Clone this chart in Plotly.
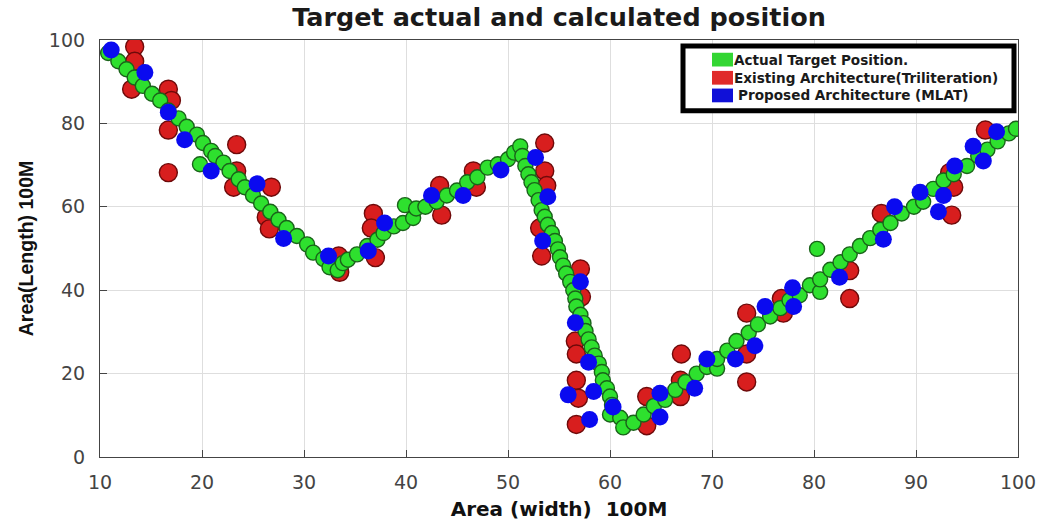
import plotly.graph_objects as go

# Actual target track (area width / length, units of 100 m)
actual_x = [10.8, 11.8, 12.6, 13.4, 14.2, 15.1, 15.9, 16.7, 17.7, 18.5, 19.5, 20.1, 20.9, 21.3, 19.8,
            22.1, 22.7, 23.6, 24.2, 25.0, 25.8, 26.7, 27.5, 28.3, 29.3, 30.3, 30.9, 31.9, 32.5, 33.3,
            33.8, 34.3, 35.2, 36.2, 37.2, 37.8, 38.8, 39.7, 39.9, 40.7, 41.0, 41.9, 43.0, 44.0, 45.0,
            46.0, 47.0, 48.0, 49.0, 50.0, 50.6, 51.2, 51.4, 51.7, 52.0, 52.3, 52.6, 53.0, 53.3, 53.6,
            53.9, 54.3, 54.6, 54.9, 55.1, 55.4, 55.7, 56.1, 56.4, 56.6, 56.7, 57.1, 57.4, 57.6, 57.9,
            58.2, 58.5, 58.9, 59.2, 59.3, 59.7, 60.0, 60.2, 60.0, 61.0, 61.3, 62.3, 63.3, 64.3, 65.4,
            66.4, 67.4, 68.5, 69.5, 70.5, 70.5, 71.5, 72.4, 73.6, 74.5, 75.7, 76.7, 77.6, 78.6, 79.6,
            80.6, 80.6, 80.3, 81.6, 82.6, 83.5, 84.5, 85.5, 86.5, 87.5, 88.6, 89.8, 90.7, 91.7, 92.7,
            93.7, 95.0, 96.1, 97.0, 98.0, 99.1, 99.8]
actual_y = [96.9, 94.9, 93.0, 91.0, 89.0, 87.1, 85.5, 83.1, 81.2, 79.2, 77.3, 75.3, 73.4, 72.2, 70.2,
            70.6, 68.6, 66.6, 64.7, 62.7, 60.8, 58.8, 56.9, 54.9, 53.0, 51.0, 49.0, 47.5, 45.5, 44.8,
            46.5, 47.3, 48.6, 50.6, 52.1, 53.7, 55.3, 56.1, 60.4, 57.3, 59.6, 60.0, 61.2, 62.7, 63.9,
            65.9, 67.1, 69.4, 70.2, 71.4, 73.0, 74.5, 72.2, 69.8, 67.8, 65.9, 64.0, 61.6, 59.2, 57.6,
            55.7, 53.7, 51.8, 49.8, 47.9, 45.9, 44.0, 42.0, 40.0, 38.0, 36.1, 34.1, 32.1, 30.2, 28.2,
            26.3, 24.3, 22.4, 20.4, 18.4, 16.5, 14.5, 12.5, 10.2, 9.4, 7.1, 8.2, 10.2, 12.2, 13.7,
            16.1, 18.0, 20.0, 21.6, 21.2, 23.5, 25.5, 27.8, 29.8, 31.8, 33.7, 35.7, 37.6, 38.8, 41.2,
            39.6, 42.6, 49.9, 44.9, 46.7, 48.6, 50.6, 52.5, 54.5, 56.1, 58.4, 60.0, 61.2, 64.3, 66.3,
            67.8, 69.8, 72.2, 73.7, 75.7, 77.6, 78.7]

# Trilateration estimates (existing architecture)
tri_x = [13.4, 13.4, 13.1, 16.7, 17.0, 16.7, 16.7, 23.4, 23.4, 23.1, 26.8, 26.3, 26.6, 33.4, 33.5,
         36.8, 36.6, 37.0, 43.3, 43.5, 46.6, 46.9, 53.6, 53.6, 53.8, 53.1, 53.3, 57.1, 57.2, 56.6,
         56.7, 56.7, 56.9, 56.7, 63.6, 63.6, 67.0, 66.9, 66.9, 73.4, 73.4, 73.4, 76.8, 77.0, 83.5,
         83.5, 86.6, 93.7, 93.3, 93.5, 96.8]
tri_y = [98.4, 94.9, 88.2, 88.2, 85.5, 78.4, 68.2, 74.9, 68.6, 64.7, 64.7, 57.5, 54.7, 48.2, 44.3,
         58.4, 54.9, 47.8, 65.1, 58.0, 68.6, 64.7, 75.3, 68.6, 65.1, 54.9, 48.2, 45.1, 38.4, 27.8,
         24.7, 18.4, 14.1, 7.8, 14.5, 7.5, 24.7, 18.4, 14.5, 34.5, 24.7, 18.0, 38.0, 34.5, 44.7,
         38.0, 58.4, 64.7, 68.2, 58.0, 78.4]

# MLAT estimates (proposed architecture)
mlat_x = [11.1, 14.4, 16.7, 18.3, 20.9, 25.4, 28.0, 32.4, 36.3, 37.9, 42.5, 45.6, 49.3, 52.7, 53.9,
          53.4, 57.1, 56.6, 57.9, 55.9, 58.4, 58.0, 60.3, 64.9, 64.9, 68.3, 69.5, 72.3, 74.2, 75.2,
          77.9, 78.0, 82.5, 86.8, 87.9, 90.4, 92.7, 92.2, 93.8, 95.6, 96.6, 97.9]
mlat_y = [97.6, 92.2, 82.7, 76.1, 68.6, 65.5, 52.4, 48.2, 49.4, 56.1, 62.7, 62.7, 68.8, 71.8, 62.4,
          51.8, 42.0, 32.2, 22.7, 14.9, 15.7, 9.0, 12.0, 15.3, 9.6, 16.5, 23.5, 23.5, 26.7, 36.1,
          40.6, 36.1, 43.1, 52.2, 60.0, 63.5, 62.7, 58.8, 69.8, 74.5, 71.0, 78.0]

legend_labels = ["Actual Target Position.",
                 "Existing Architecture(Triliteration)",
                 "Proposed Architecture (MLAT)"]
x_ticks = [10, 20, 30, 40, 50, 60, 70, 80, 90, 100]
y_ticks = [0, 20, 40, 60, 80, 100]

W, H = 1048, 529
ML, MR, MT, MB = 100, 30, 40, 64
PW, PH = W - ML - MR, H - MT - MB

GREEN, RED, BLUE = "#2ee02e", "#d81e1e", "#0a0af0"

fig = go.Figure()
fig.add_trace(go.Scatter(x=tri_x, y=tri_y, mode="markers", showlegend=False,
                         marker=dict(size=18, color=RED, line=dict(color="#6e0a0a", width=1.4))))
fig.add_trace(go.Scatter(x=actual_x, y=actual_y, mode="markers", showlegend=False,
                         marker=dict(size=15, color=GREEN, line=dict(color="#1a631a", width=1.4))))
fig.add_trace(go.Scatter(x=mlat_x, y=mlat_y, mode="markers", showlegend=False,
                         marker=dict(size=17, color=BLUE, line=dict(width=0))))


def px_x(p):
    return (p - ML) / PW


def px_y(p):
    return (H - MB - p) / PH


# boxed key in the upper-right corner
shapes = [dict(type="rect", xref="paper", yref="paper",
               x0=px_x(683), x1=px_x(1014), y0=px_y(112), y1=px_y(46),
               line=dict(color="black", width=5), fillcolor="white", layer="above")]
annotations = []
rows = [60, 78.5, 96.5]
text_x = [733, 733, 737]
for lbl, col, cy, tx in zip(legend_labels, ["#33d633", "#e02a2a", "#1010d8"], rows, text_x):
    shapes.append(dict(type="rect", xref="paper", yref="paper",
                       x0=px_x(712), x1=px_x(733), y0=px_y(cy + 7), y1=px_y(cy - 7),
                       line=dict(width=0), fillcolor=col, layer="above"))
    annotations.append(dict(xref="paper", yref="paper", x=px_x(tx), y=px_y(cy),
                            xanchor="left", yanchor="middle", showarrow=False, text=lbl,
                            borderpad=0,
                            font=dict(family="DejaVu Sans", size=13.6, color="#1a1a1a",
                                      weight="bold")))

fig.update_layout(
    width=W, height=H,
    margin=dict(l=ML, r=MR, t=MT, b=MB),
    paper_bgcolor="white", plot_bgcolor="white",
    title=dict(text="<b>Target actual and calculated position</b>", x=0.5, xref="paper",
               y=1 - 17 / H, yref="container", xanchor="center", yanchor="middle",
               font=dict(family="DejaVu Sans", size=25.5, color="#1a1a1a")),
    shapes=shapes, annotations=annotations,
    showlegend=False,
)
axis_common = dict(showgrid=True, gridcolor="#dedede", gridwidth=1, zeroline=False,
                   showline=True, linecolor="#444", linewidth=1.2, mirror=True,
                   ticks="inside", ticklen=7, tickcolor="#444",
                   tickfont=dict(family="DejaVu Sans", size=19, color="#444"))
fig.update_xaxes(range=[10, 100], tickvals=x_ticks, ticklabelstandoff=8,
                 title=dict(text="<b>Area (width)  100M</b>", standoff=10,
                            font=dict(family="DejaVu Sans", size=20, color="#111")),
                 **axis_common)
fig.update_yaxes(range=[0, 100], tickvals=y_ticks, ticklabelstandoff=10,
                 title=dict(text="<b>Area(Length) 100M</b>", standoff=10,
                            font=dict(family="Liberation Sans", size=19.5, color="#111")),
                 **axis_common)

fig.write_html("out.html")
